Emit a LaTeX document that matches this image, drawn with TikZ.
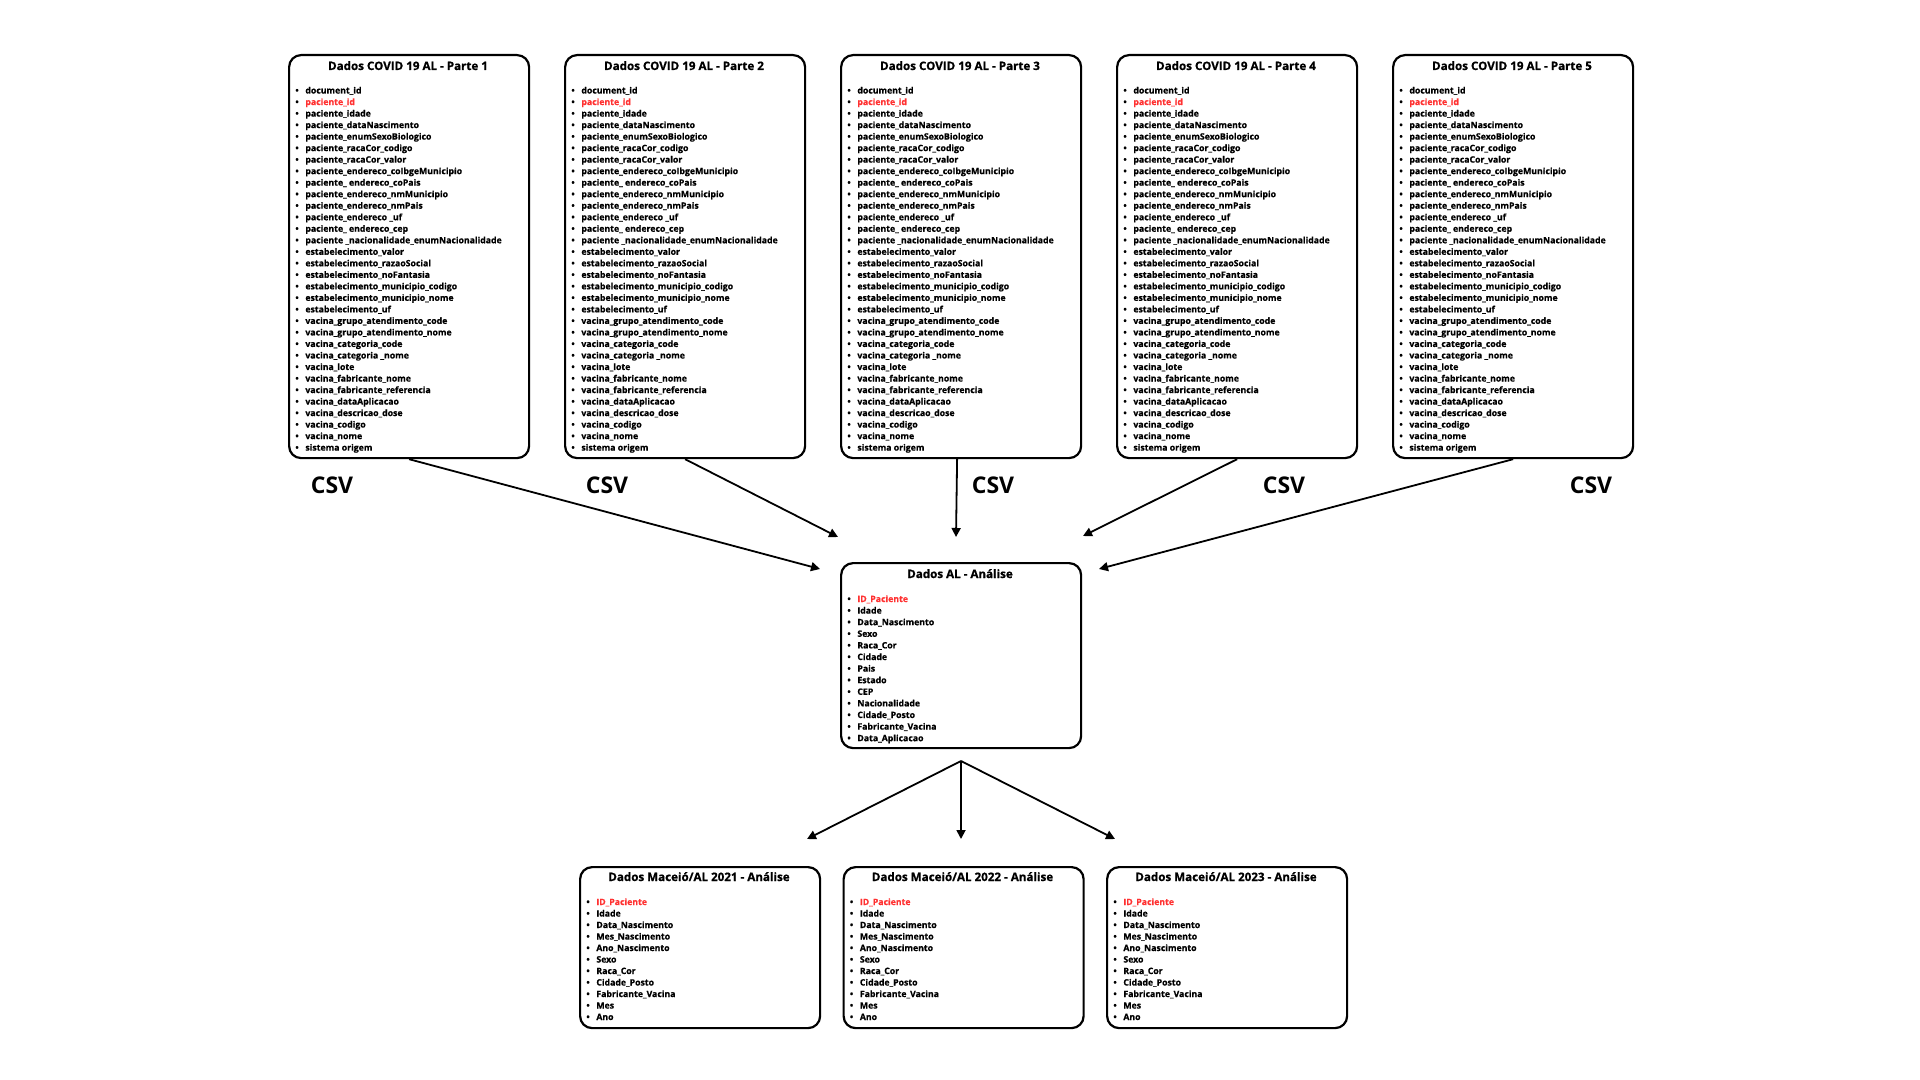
\documentclass[tikz,border=0pt]{standalone}
\usepackage{fontspec}
\setmainfont{Open Sans}
\newfontfamily\heavyfont{Open Sans}[UprightFont=*-Bold, UprightFeatures={FakeBold=0.8}]
\usetikzlibrary{arrows.meta}
\definecolor{cvred}{RGB}{255,49,49}
\newdimen\pxu \pxu=0.5pt
\newcommand\rd[1]{\textcolor{cvred}{#1}}
\newcommand\bul{\makebox[10\pxu][l]{•}}
\newcommand\toplist{document\_id,\rd{paciente\_id},paciente\_idade,paciente\_dataNascimento,paciente\_enumSexoBiologico,paciente\_racaCor\_codigo,paciente\_racaCor\_valor,paciente\_endereco\_coIbgeMunicipio,paciente\_ endereco\_coPais,paciente\_endereco\_nmMunicipio,paciente\_endereco\_nmPais,paciente\_endereco \_uf,paciente\_ endereco\_cep,paciente \_nacionalidade\_enumNacionalidade,estabelecimento\_valor,estabelecimento\_razaoSocial,estabelecimento\_noFantasia,estabelecimento\_municipio\_codigo,estabelecimento\_municipio\_nome,estabelecimento\_uf,vacina\_grupo\_atendimento\_code,vacina\_grupo\_atendimento\_nome,vacina\_categoria\_code,vacina\_categoria \_nome,vacina\_lote,vacina\_fabricante\_nome,vacina\_fabricante\_referencia,vacina\_dataAplicacao,vacina\_descricao\_dose,vacina\_codigo,vacina\_nome,sistema origem}
\newcommand\midlist{\rd{ID\_Paciente},Idade,Data\_Nascimento,Sexo,Raca\_Cor,Cidade,Pais,Estado,CEP,Nacionalidade,Cidade\_Posto,Fabricante\_Vacina,Data\_Aplicacao}
\newcommand\botlist{\rd{ID\_Paciente},Idade,Data\_Nascimento,Mes\_Nascimento,Ano\_Nascimento,Sexo,Raca\_Cor,Cidade\_Posto,Fabricante\_Vacina,Mes,Ano}
\begin{document}
\begin{tikzpicture}[x=0.5pt,y=-0.5pt,
  box/.style={draw, line width=1.1pt, rounded corners=6pt, inner sep=0pt, anchor=north west},
  ttl/.style={anchor=base, inner sep=0pt, font=\heavyfont\fontsize{5.8}{7}\selectfont},
  itm/.style={anchor=base west, inner sep=0pt, font=\heavyfont\fontsize{4.36}{5.5}\selectfont},
  csv/.style={anchor=base, inner sep=0pt, font=\bfseries\fontsize{11.5}{13}\selectfont},
  arr/.style={line width=0.9pt, -{Triangle[length=4.5pt,width=4.5pt]}}]
\useasboundingbox (0,0) rectangle (1920,1080);
% top boxes
\foreach \k/\x in {1/288,2/564,3/840,4/1116,5/1392}{
  \node[box, minimum width=240\pxu, minimum height=403\pxu] (b\k) at (\x,54) {};
  \node[ttl] (b\k-t) at (\x+120,70) {Dados COVID 19 AL - Parte \k};
  \foreach \tx [count=\i] in \toplist {
    \node[itm] (b\k-i\i) at (\x+7,{93.5+(\i-1)*11.52}) {\bul\tx};
  }
}
% middle box
\node[box, minimum width=240\pxu, minimum height=185\pxu] (mid) at (840,562) {};
\node[ttl] (mid-t) at (960,578) {Dados AL - Análise};
\foreach \tx [count=\i] in \midlist {
  \node[itm] (mid-i\i) at (847,{602+(\i-1)*11.6}) {\bul\tx};
}
% bottom boxes
\foreach \k/\x/\yr in {1/579/2021,2/842.5/2022,3/1106/2023}{
  \node[box, minimum width=240\pxu, minimum height=161\pxu] (c\k) at (\x,866) {};
  \node[ttl] (c\k-t) at (\x+120,881) {Dados Maceió/AL \yr{} - Análise};
  \foreach \tx [count=\i] in \botlist {
    \node[itm] (c\k-i\i) at (\x+7,{905+(\i-1)*11.5}) {\bul\tx};
  }
}
% CSV labels
\foreach \k/\x in {1/332,2/607,3/993,4/1284,5/1591}{
  \node[csv] (csv\k) at (\x,493) {CSV};
}
% arrow ends
\coordinate (t1) at (820,569);
\coordinate (t2) at (838,537);
\coordinate (t3) at (956,537);
\coordinate (t4) at (1083,536);
\coordinate (t5) at (1099,569);
\coordinate (fork) at (961,761);
\coordinate (e1) at (807,839);
\coordinate (e2) at (961,839);
\coordinate (e3) at (1115,839);
\draw[arr] (b1.south) -- (t1);
\draw[arr] (b2.south) -- (t2);
\draw[arr] ([xshift=-2pt]b3.south) -- (t3);
\draw[arr] (b4.south) -- (t4);
\draw[arr] (b5.south) -- (t5);
\draw[arr] (fork) -- (e1);
\draw[arr] (fork) -- (e2);
\draw[arr] (fork) -- (e3);
\end{tikzpicture}
\end{document}
